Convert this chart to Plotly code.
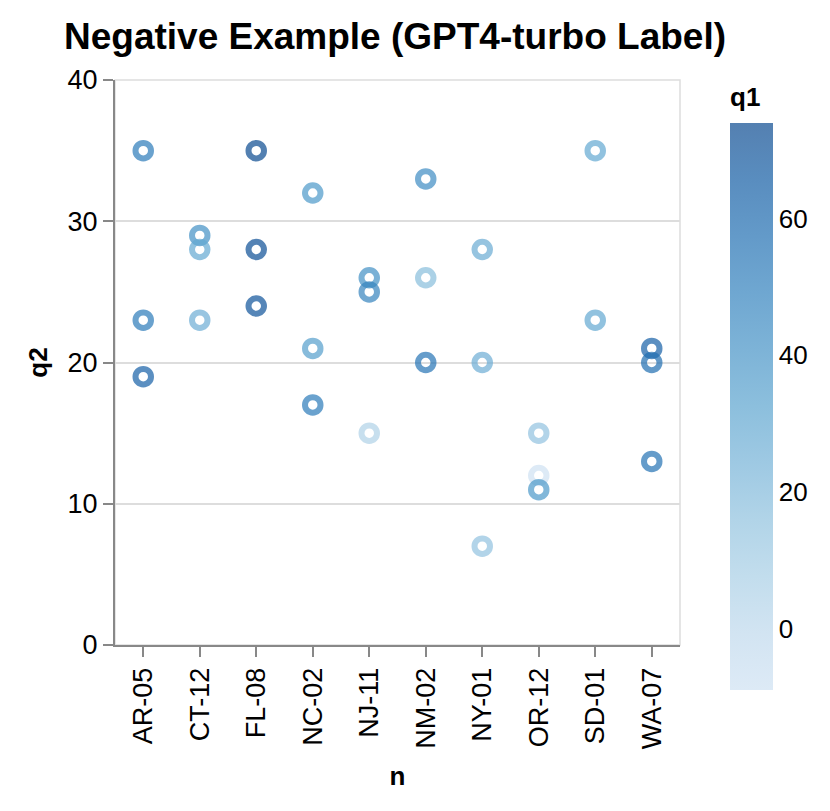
import plotly.graph_objects as go

n = ["AR-05", "AR-05", "AR-05",
     "CT-12", "CT-12", "CT-12",
     "FL-08", "FL-08", "FL-08",
     "NC-02", "NC-02", "NC-02",
     "NJ-11", "NJ-11", "NJ-11",
     "NM-02", "NM-02", "NM-02",
     "NY-01", "NY-01", "NY-01",
     "OR-12", "OR-12", "OR-12",
     "SD-01", "SD-01",
     "WA-07", "WA-07", "WA-07"]
q2 = [35, 23, 19,
      29, 28, 23,
      35, 28, 24,
      32, 21, 17,
      26, 25, 15,
      33, 26, 20,
      28, 20, 7,
      15, 12, 11,
      35, 23,
      21, 20, 13]
q1 = [52, 52, 64,
      42, 30, 27,
      74, 72, 70,
      38, 35, 52,
      42, 48, 5,
      44, 18, 55,
      28, 27, 15,
      15, -9, 38,
      30, 30,
      64, 58, 56]
categories = ["AR-05", "CT-12", "FL-08", "NC-02", "NJ-11",
              "NM-02", "NY-01", "OR-12", "SD-01", "WA-07"]
y_ticks = [0, 10, 20, 30, 40]
legend_ticks = [0, 20, 40, 60]

blues = ["#cfe1f2", "#bed8ec", "#a8cee5", "#8fc1de", "#74b2d7", "#5ba3cf",
         "#4592c6", "#3181bd", "#206fb2", "#125ca4", "#0a4a90"]
OP = 0.7
FONT = "Liberation Sans, Arial, sans-serif"


def blend(h, a=OP):
    r, g, b = int(h[1:3], 16), int(h[3:5], 16), int(h[5:7], 16)
    return "rgb(%d,%d,%d)" % (round(a * r + (1 - a) * 255),
                              round(a * g + (1 - a) * 255),
                              round(a * b + (1 - a) * 255))


k = len(blues) - 1
scale = [[i / k, c] for i, c in enumerate(blues)]
scale_blend = [[i / k, blend(c)] for i, c in enumerate(blues)]
cmin, cmax = min(q1), max(q1)

fig = go.Figure()
fig.add_trace(go.Scatter(
    x=n, y=q2, mode="markers",
    marker=dict(symbol="circle-open", size=15.5, opacity=OP,
                color=q1, colorscale=scale, cmin=cmin, cmax=cmax,
                line=dict(width=6), showscale=False),
    showlegend=False, hoverinfo="skip"))
fig.add_trace(go.Scatter(
    x=[categories[0]], y=[None], mode="markers",
    marker=dict(color=[cmin], colorscale=scale_blend, cmin=cmin, cmax=cmax,
                showscale=True,
                colorbar=dict(x=(730 - 115) / 565, xanchor="left", xpad=0,
                              y=(645 - 123) / 565, yanchor="top", ypad=0,
                              len=567, lenmode="pixels", thickness=43,
                              thicknessmode="pixels", outlinewidth=0,
                              tickvals=legend_ticks, ticks="",
                              ticklabelposition="outside",
                              tickfont=dict(family=FONT, size=26, color="#000"))),
    showlegend=False, hoverinfo="skip"))

fig.add_shape(type="rect", xref="paper", yref="paper", x0=0, x1=1, y0=0, y1=1,
              line=dict(color="#dddddd", width=1.5), layer="below")

fig.update_layout(
    width=830, height=811,
    margin=dict(l=107, r=158, t=72, b=174),
    plot_bgcolor="white", paper_bgcolor="white",
    title=dict(text="<b>Negative Example (GPT4-turbo Label)</b>", x=387 / 830, xanchor="center",
               y=1 - 28 / 811, yanchor="middle",
               font=dict(family=FONT, size=37, color="#000")),
    xaxis=dict(categoryorder="array", categoryarray=categories, range=[-0.5, 9.5],
               showgrid=False, showline=True, linecolor="#888888", linewidth=2,
               ticks="outside", ticklen=10, tickwidth=2, tickcolor="#888888",
               tickangle=-90, tickfont=dict(family=FONT, size=27, color="#000"),
               title=dict(text="<b>n</b>", standoff=18,
                          font=dict(family=FONT, size=26, color="#000")),
               zeroline=False),
    yaxis=dict(range=[0, 40], tickvals=y_ticks, showgrid=True, gridcolor="#dddddd", gridwidth=1.5,
               showline=True, linecolor="#888888", linewidth=2,
               ticks="outside", ticklen=10, tickwidth=2, tickcolor="#888888",
               tickfont=dict(family=FONT, size=27, color="#000"),
               title=dict(text="<b>q2</b>", standoff=12,
                          font=dict(family=FONT, size=26, color="#000")),
               zeroline=False),
)
fig.add_annotation(text="<b>q1</b>", xref="paper", yref="paper",
                   x=(728 - 115) / 565, xanchor="left", y=(645 - 97) / 565, yanchor="middle",
                   showarrow=False, font=dict(family=FONT, size=26, color="#000"))

fig.write_html("out.html")
